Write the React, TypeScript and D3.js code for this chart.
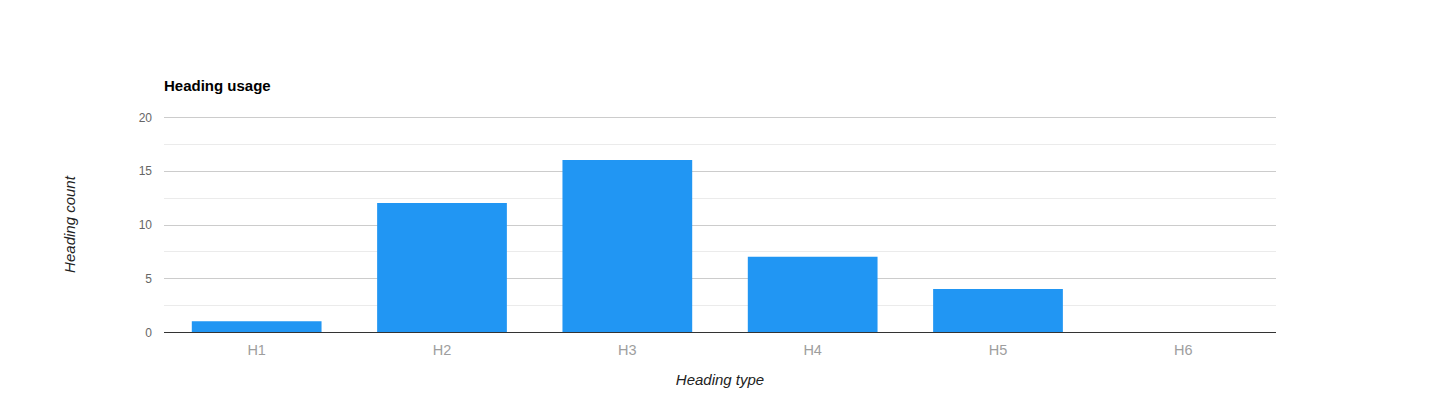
import { scaleBand, scaleLinear, range } from "d3";

const categories = ["H1", "H2", "H3", "H4", "H5", "H6"];
const counts = [1, 12, 16, 7, 4, 0];
const majorTicks = [0, 5, 10, 15, 20];

const width = 1440;
const height = 400;
const plotLeft = 164;
const plotRight = 1276;
const plotTop = 117;
const plotBottom = 332;
const font = "Arial, 'Liberation Sans', sans-serif";

function App() {
  const x = scaleBand<string>()
    .domain(categories)
    .range([plotLeft, plotRight])
    .paddingInner(0.3)
    .paddingOuter(0.15);

  const y = scaleLinear().domain([0, 20]).range([plotBottom, plotTop]);

  const minorTicks = range(0, 20, 5).map((v) => v + 2.5);

  return (
    <div style={{ position: "absolute", left: 0, top: 0 }}>
      <svg width={width} height={height} style={{ display: "block" }}>
        <rect x={0} y={0} width={width} height={height} fill="#fff" />
        <text
          x={plotLeft}
          y={91}
          fontFamily={font}
          fontSize={15}
          fontWeight="bold"
          fill="#000"
        >
          Heading usage
        </text>
        {minorTicks.map((v) => (
          <line
            key={`minor-${v}`}
            x1={plotLeft}
            x2={plotRight}
            y1={Math.round(y(v)) + 0.5}
            y2={Math.round(y(v)) + 0.5}
            stroke="#ebebeb"
          />
        ))}
        {majorTicks.map((v) => (
          <g key={`major-${v}`}>
            {v !== 0 ? (
              <line
                x1={plotLeft}
                x2={plotRight}
                y1={Math.round(y(v)) + 0.5}
                y2={Math.round(y(v)) + 0.5}
                stroke="#cccccc"
              />
            ) : null}
            <text
              x={152}
              y={y(v) + 4.5}
              textAnchor="end"
              fontFamily={font}
              fontSize={12}
              fill="#666"
            >
              {v}
            </text>
          </g>
        ))}
        {categories.map((c, i) => {
          const bx = x(c) ?? 0;
          const top = y(counts[i]);
          return (
            <rect
              key={c}
              x={bx}
              y={top}
              width={x.bandwidth()}
              height={Math.max(0, plotBottom - top)}
              fill="#2196f3"
            />
          );
        })}
        <line
          x1={plotLeft}
          x2={plotRight}
          y1={plotBottom + 0.5}
          y2={plotBottom + 0.5}
          stroke="#333"
        />
        {categories.map((c) => (
          <text
            key={`label-${c}`}
            x={(x(c) ?? 0) + x.bandwidth() / 2}
            y={354.5}
            textAnchor="middle"
            fontFamily={font}
            fontSize={14.5}
            fill="#9e9e9e"
          >
            {c}
          </text>
        ))}
        <text
          x={(plotLeft + plotRight) / 2}
          y={385}
          textAnchor="middle"
          fontFamily={font}
          fontSize={15}
          fontStyle="italic"
          fill="#222"
        >
          Heading type
        </text>
        <text
          transform={`translate(75, ${(plotTop + plotBottom) / 2}) rotate(-90)`}
          textAnchor="middle"
          fontFamily={font}
          fontSize={15}
          fontStyle="italic"
          fill="#222"
        >
          Heading count
        </text>
      </svg>
    </div>
  );
}

export default App;
